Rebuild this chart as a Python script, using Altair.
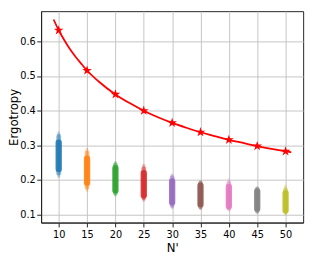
import altair as alt
import pandas as pd

# Red curve
curve_x = [9.1, 10, 11, 12, 13, 14, 15, 17, 20, 22.5, 25, 27.5, 30, 32.5, 35, 37.5, 40, 42.5, 45, 47.5, 50, 51]
curve_y = [0.663, 0.632, 0.603, 0.577, 0.555, 0.535, 0.516, 0.485, 0.447, 0.422, 0.400, 0.381,
           0.365, 0.351, 0.338, 0.327, 0.316, 0.307, 0.298, 0.290, 0.283, 0.280]

# Star markers
n_vals = [10, 15, 20, 25, 30, 35, 40, 45, 50]
star_y = [0.632, 0.516, 0.447, 0.400, 0.365, 0.338, 0.316, 0.298, 0.283]

# Scatter clusters: full extent, mid band and dense core
lo = [0.210, 0.170, 0.156, 0.142, 0.120, 0.117, 0.114, 0.106, 0.103]
hi = [0.336, 0.288, 0.251, 0.243, 0.215, 0.195, 0.200, 0.178, 0.183]
mid_lo = [0.220, 0.180, 0.163, 0.149, 0.127, 0.123, 0.119, 0.111, 0.108]
mid_hi = [0.326, 0.278, 0.244, 0.233, 0.207, 0.191, 0.190, 0.174, 0.172]
core_lo = [0.232, 0.192, 0.171, 0.156, 0.136, 0.130, 0.125, 0.117, 0.113]
core_hi = [0.308, 0.262, 0.234, 0.220, 0.196, 0.184, 0.180, 0.167, 0.162]
colors = ["#1f77b4", "#ff7f0e", "#2ca02c", "#d62728", "#9467bd",
          "#8c564b", "#e377c2", "#7f7f7f", "#bcbd22"]

curve = pd.DataFrame({"x": curve_x, "y": curve_y})
stars = pd.DataFrame({"x": n_vals, "y": star_y})
clusters = pd.DataFrame({"x": n_vals, "lo": lo, "hi": hi, "mlo": mid_lo, "mhi": mid_hi,
                         "clo": core_lo, "chi": core_hi, "c": [str(v) for v in n_vals]})

xs = alt.Scale(domain=[6.9, 53.1], nice=False, zero=False)
ys = alt.Scale(domain=[0.0775, 0.687], nice=False, zero=False)
cscale = alt.Scale(domain=[str(v) for v in n_vals], range=colors)

xax = alt.Axis(values=n_vals, title="N'", grid=True)
yax = alt.Axis(values=[0.1, 0.2, 0.3, 0.4, 0.5, 0.6], format=".1f", title="Ergotropy", grid=True,
               titleX=-21.5)

star_path = ("M0,-1 L0.225,-0.309 L0.951,-0.309 L0.363,0.118 L0.588,0.809 L0,0.382 "
             "L-0.588,0.809 L-0.363,0.118 L-0.951,-0.309 L-0.225,-0.309 Z")

def band(lo_f, hi_f, w, op):
    return alt.Chart(clusters).mark_rule(strokeWidth=w, opacity=op, strokeCap="round").encode(
        x=alt.X("x:Q", scale=xs, axis=xax),
        y=alt.Y(f"{lo_f}:Q", scale=ys, axis=yax),
        y2=f"{hi_f}:Q",
        color=alt.Color("c:N", scale=cscale, legend=None),
    )

outer = band("lo", "hi", 3, 0.3)
mid = band("mlo", "mhi", 5, 0.5)
core = band("clo", "chi", 6.5, 0.85)

line = alt.Chart(curve).mark_line(color="#ff0000", strokeWidth=1.8, interpolate="monotone").encode(
    x=alt.X("x:Q", scale=xs, axis=xax),
    y=alt.Y("y:Q", scale=ys, axis=yax),
)
pts = alt.Chart(stars).mark_point(shape=star_path, filled=True, color="#ff0000", size=110, opacity=1).encode(
    x=alt.X("x:Q", scale=xs, axis=xax),
    y=alt.Y("y:Q", scale=ys, axis=yax),
)

chart = alt.layer(outer, mid, core, line, pts).properties(
    width=269, height=217,
    autosize=alt.AutoSizeParams(type="none"),
    padding={"left": 34, "top": 0, "right": 6, "bottom": 29},
).configure_view(stroke="#222222", strokeWidth=1).configure_axis(
    labelFont="DejaVu Sans", titleFont="DejaVu Sans", labelFontSize=10, titleFontSize=12,
    titleFontWeight="normal", labelColor="black", titleColor="black",
    domainColor="#222222", tickColor="#222222", tickSize=4.5, labelPadding=1.5,
    gridColor="#c4c4c4", gridWidth=1,
).configure_axisX(titlePadding=4, labelPadding=2.5)

chart.save("out.html", embed_options={"renderer": "svg", "actions": False})
